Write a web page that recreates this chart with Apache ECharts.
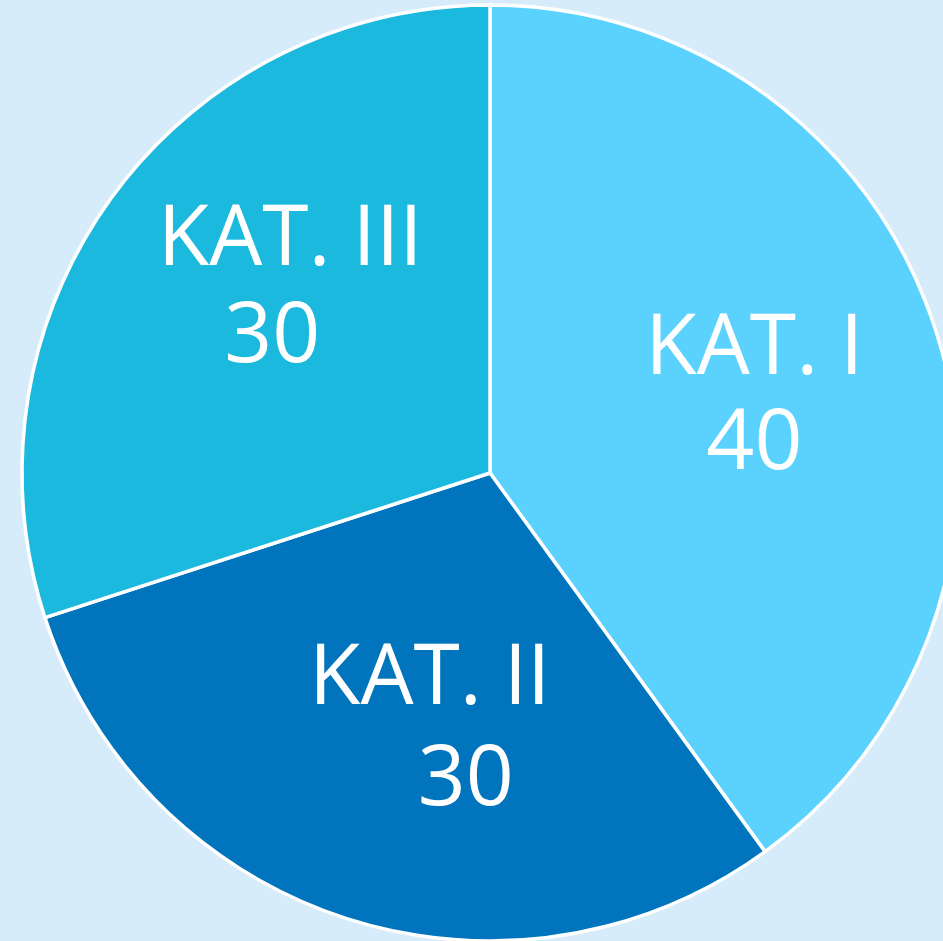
<!DOCTYPE html>
<html>
<head>
<meta charset="utf-8">
<script src="https://cdn.jsdelivr.net/npm/echarts@6/dist/echarts.min.js"></script>
<style>
  html, body { margin: 0; padding: 0; background: #d6ecfa; }
  #chart { width: 943px; height: 941px; }
</style>
</head>
<body>
<div id="chart"></div>
<script>
const names = ['KAT. I', 'KAT. II', 'KAT. III'];
const values = [40, 30, 30];
const colors = ['#5bd2fe', '#0074bc', '#1cb9de'];

// label nudges from the default inside position, per slice
const nudge = [[39, -2], [31, 32], [-17, -44]];
// horizontal shift of name / value line inside each label
const shift = [[0, 0], [-18, 18], [9, -9]];
const lineH = [95, 101, 97];

const rich = {};
names.forEach((n, i) => {
  const pad = (s) => s >= 0 ? [0, 0, 0, 2 * s] : [0, -2 * s, 0, 0];
  const base = { color: '#fff', fontSize: 84, lineHeight: lineH[i], fontFamily: 'Open Sans' };
  rich['n' + i] = Object.assign({ padding: pad(shift[i][0]) }, base);
  rich['v' + i] = Object.assign({ padding: pad(shift[i][1]) }, base);
});

const chart = echarts.init(document.getElementById('chart'));
chart.setOption({
  backgroundColor: '#d6ecfa',
  animation: false,
  series: [{
    type: 'pie',
    center: [490, 473],
    radius: [0, 468],
    startAngle: 90,
    clockwise: true,
    itemStyle: { borderColor: '#fff', borderWidth: 3.5 },
    label: {
      position: 'inside',
      formatter: (p) => '{n' + p.dataIndex + '|' + p.name + '}\n{v' + p.dataIndex + '|' + p.value + '}',
      rich,
    },
    labelLayout: (p) => ({ dx: nudge[p.dataIndex][0], dy: nudge[p.dataIndex][1] }),
    emphasis: { disabled: true },
    data: names.map((n, i) => ({ name: n, value: values[i], itemStyle: { color: colors[i] } })),
  }],
});
</script>
</body>
</html>
